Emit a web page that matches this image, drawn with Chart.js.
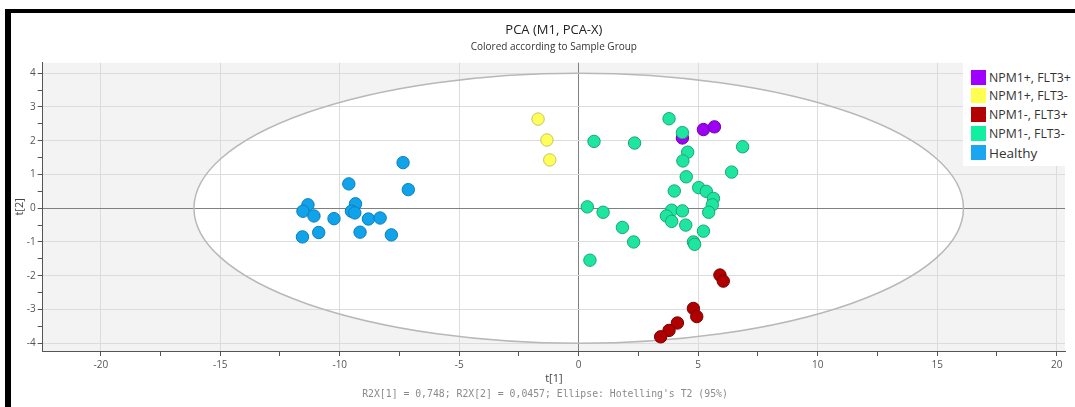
<!DOCTYPE html>
<html>
<head>
<meta charset="utf-8">
<script src="https://cdn.jsdelivr.net/npm/chart.js@4"></script>
<style>
  html, body { margin: 0; padding: 0; background: #fff; }
  body { width: 1075px; height: 407px; position: relative; overflow: hidden; }
  #frame { position: absolute; left: 5px; top: 9px; width: 1070px; height: 398px;
           border-top: 4px solid #000; border-left: 6px solid #000; box-sizing: border-box; }
  #wrap { position: absolute; left: 0; top: 0; width: 1075px; height: 407px; }
  #legend { position: absolute; left: 963px; top: 62px; width: 112px; height: 104px; background: #fff;
            font-family: 'Open Sans', 'Noto Sans', sans-serif; color: #333; }
  .item { position: absolute; left: 0; height: 16px; display: flex; align-items: center; white-space: nowrap; }
  .sw { width: 15px; height: 15px; margin-left: 8px; margin-right: 3px; }
  #note { position: absolute; left: 0; width: 1090px; top: 388px; text-align: center;
          font-family: 'DejaVu Sans Mono', monospace; font-size: 9.8px; color: #8a8a8a; }
</style>
</head>
<body>
<div id="frame"></div>
<div id="wrap"><canvas id="c" width="1075" height="407"></canvas></div>
<div id="legend"></div>
<div id="note">R2X[1] = 0,748; R2X[2] = 0,0457; Ellipse: Hotelling's T2 (95%)</div>
<script>
// ---- data (t[1], t[2]) per sample group ----
const groupNames = ['Healthy', 'NPM1-, FLT3-', 'NPM1-, FLT3+', 'NPM1+, FLT3-', 'NPM1+, FLT3+'];
const legendOrder = ['NPM1+, FLT3+', 'NPM1+, FLT3-', 'NPM1-, FLT3+', 'NPM1-, FLT3-', 'Healthy'];

const healthyT1 = [-7.35, -9.62, -7.13, -11.33, -9.34, -11.54, -9.51, -9.37, -11.08, -10.24, -8.80, -8.31, -11.56, -10.88, -9.15, -7.84];
const healthyT2 = [1.35, 0.72, 0.55, 0.10, 0.13, -0.09, -0.09, -0.14, -0.23, -0.31, -0.32, -0.29, -0.85, -0.72, -0.71, -0.79];

const negNegT1 = [3.78, 4.34, 0.64, 2.34, 6.86, 4.56, 4.36, 6.40, 4.50, 5.02, 5.34, 4.00, 5.64, 5.59, 5.44, 0.36, 1.02, 3.89, 4.34, 3.67, 3.89, 4.48, 1.83, 5.22, 2.30, 4.80, 4.85, 0.47];
const negNegT2 = [2.65, 2.24, 1.98, 1.93, 1.82, 1.66, 1.40, 1.07, 0.93, 0.61, 0.50, 0.51, 0.29, 0.10, -0.12, 0.04, -0.12, -0.06, -0.08, -0.23, -0.39, -0.50, -0.57, -0.68, -1.00, -1.00, -1.07, -1.54];

const negPosT1 = [5.91, 6.05, 4.80, 4.94, 4.13, 3.78, 3.43];
const negPosT2 = [-1.98, -2.16, -2.97, -3.21, -3.40, -3.62, -3.81];

const posNegT1 = [-1.70, -1.33, -1.21];
const posNegT2 = [2.64, 2.02, 1.43];

const posPosT1 = [4.34, 5.22, 5.68];
const posPosT2 = [2.08, 2.33, 2.41];

const xTickLabels = [-20, -15, -10, -5, 0, 5, 10, 15, 20];
const yTickLabels = [-4, -3, -2, -1, 0, 1, 2, 3, 4];
const ellipseCenter = [0, 0];
const ellipseAxes = [16.1, 4.0];

// ---- styles ----
const fills   = { 'Healthy': '#10a3ea', 'NPM1-, FLT3-': '#1ee6a0', 'NPM1-, FLT3+': '#b00000', 'NPM1+, FLT3-': '#ffff5a', 'NPM1+, FLT3+': '#9d00f2' };
const borders = { 'Healthy': '#0b7fbf', 'NPM1-, FLT3-': '#17a874', 'NPM1-, FLT3+': '#7a0000', 'NPM1+, FLT3-': '#c9c45e', 'NPM1+, FLT3+': '#7000b5' };
const swatch  = { 'Healthy': '#1aa6f0', 'NPM1-, FLT3-': '#10f0a0', 'NPM1-, FLT3+': '#b30000', 'NPM1+, FLT3-': '#ffff50', 'NPM1+, FLT3+': '#a000ff' };

const seriesX = [healthyT1, negNegT1, negPosT1, posNegT1, posPosT1];
const seriesY = [healthyT2, negNegT2, negPosT2, posNegT2, posPosT2];

const datasets = groupNames.map((name, i) => ({
  label: name,
  data: seriesX[i].map((v, k) => ({ x: v, y: seriesY[i][k] })),
  backgroundColor: fills[name],
  borderColor: borders[name],
  borderWidth: 1,
  pointRadius: 6.2,
  pointHoverRadius: 6.2
}));

// legend (HTML)
const lg = document.getElementById('legend');
legendOrder.forEach((name, i) => {
  const d = document.createElement('div');
  d.className = 'item';
  d.style.top = (7 + i * 18.9) + 'px';
  d.style.fontSize = name === 'Healthy' ? '13.5px' : '12.3px';
  d.innerHTML = '<span class="sw" style="background:' + swatch[name] + '"></span><span>' + name + '</span>';
  lg.appendChild(d);
});

function ellipsePath(chart) {
  const { ctx, scales: { x, y } } = chart;
  const cx = x.getPixelForValue(ellipseCenter[0]);
  const cy = y.getPixelForValue(ellipseCenter[1]);
  const rx = Math.abs(x.getPixelForValue(ellipseCenter[0] + ellipseAxes[0]) - cx);
  const ry = Math.abs(y.getPixelForValue(ellipseCenter[1] + ellipseAxes[1]) - cy);
  ctx.beginPath();
  ctx.ellipse(cx, cy, rx, ry, 0, 0, Math.PI * 2);
}

const pcaBackground = {
  id: 'pcaBackground',
  beforeDraw(chart) {
    const { ctx, chartArea: a } = chart;
    ctx.save();
    ctx.fillStyle = '#f3f3f3';
    ctx.fillRect(a.left, a.top, a.width, a.height);
    ctx.beginPath();
    ctx.rect(a.left, a.top, a.width, a.height);
    ctx.clip();
    ellipsePath(chart);
    ctx.fillStyle = '#ffffff';
    ctx.fill();
    ctx.restore();
  },
  beforeDatasetsDraw(chart) {
    const { ctx, chartArea: a } = chart;
    ctx.save();
    ctx.beginPath();
    ctx.rect(a.left, a.top, a.width, a.height);
    ctx.clip();
    ellipsePath(chart);
    ctx.strokeStyle = '#b8b8b8';
    ctx.lineWidth = 1.5;
    ctx.stroke();
    ctx.restore();
  }
};

Chart.defaults.font.family = "'Open Sans', 'Noto Sans', sans-serif";
Chart.defaults.color = '#555';

const isMajor = (v, list) => list.some(t => Math.abs(t - v) < 1e-9);

new Chart(document.getElementById('c'), {
  type: 'scatter',
  data: { datasets },
  plugins: [pcaBackground],
  options: {
    responsive: false,
    animation: false,
    events: [],
    layout: { padding: { left: 0, right: 10, top: 0, bottom: 0 } },
    plugins: {
      legend: { display: false },
      tooltip: { enabled: false },
      title: {
        display: true, fullSize: false,
        text: 'PCA (M1, PCA-X)',
        color: '#222',
        font: { size: 13, weight: 'normal' },
        padding: { top: 22.2, bottom: 0 }
      },
      subtitle: {
        display: true, fullSize: false,
        text: 'Colored according to Sample Group',
        color: '#333',
        font: { size: 10, weight: 'normal' },
        padding: { top: 3.2, bottom: 9.7 }
      }
    },
    scales: {
      x: {
        type: 'linear',
        min: -22.43, max: 20.35,
        afterFit(s) { s.height = 56; },
        border: { color: '#555', width: 1 },
        grid: {
          tickLength: 5,
          color: c => (c.tick && Math.abs(c.tick.value) < 1e-9) ? '#808080' : (c.tick && isMajor(c.tick.value, xTickLabels) ? '#dcdcdc' : 'rgba(0,0,0,0)'),
          tickColor: '#555'
        },
        ticks: {
          stepSize: 2.5, includeBounds: false, autoSkip: false, maxRotation: 0,
          padding: 3, color: '#555', font: { size: 10 },
          callback: v => isMajor(v, xTickLabels) ? String(v) : ''
        },
        title: { display: true, text: 't[1]', color: '#444', font: { size: 11 }, padding: { top: 0, bottom: 21.4 } }
      },
      y: {
        type: 'linear',
        min: -4.23, max: 4.31,
        afterFit(s) { s.width = 42.7; },
        border: { color: '#555', width: 1 },
        grid: {
          tickLength: 5,
          color: c => (c.tick && Math.abs(c.tick.value) < 1e-9) ? '#808080' : (c.tick && isMajor(c.tick.value, yTickLabels) ? '#dcdcdc' : 'rgba(0,0,0,0)'),
          tickColor: '#555'
        },
        ticks: {
          stepSize: 0.5, includeBounds: false, autoSkip: false,
          padding: 2, color: '#555', font: { size: 10 },
          callback: v => isMajor(v, yTickLabels) ? String(v) : ''
        },
        title: { display: true, text: 't[2]', color: '#444', font: { size: 11 }, padding: { top: 13.4, bottom: 0 } }
      }
    }
  }
});
</script>
</body>
</html>
